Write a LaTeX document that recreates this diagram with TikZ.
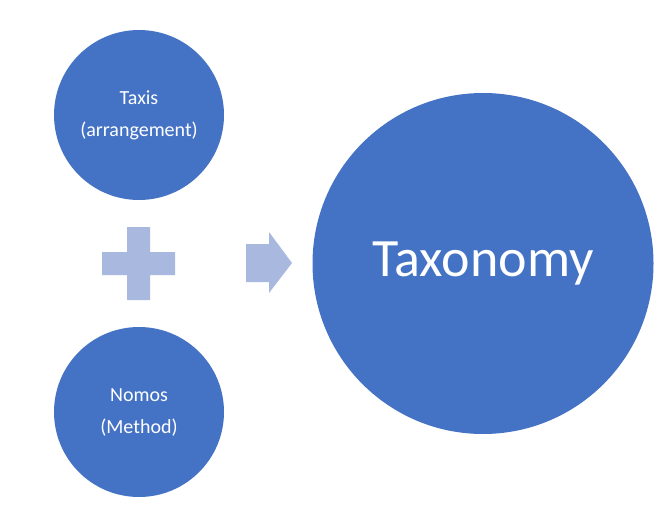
\documentclass[tikz,border=0pt]{standalone}
\usepackage{fontspec}
\setmainfont{Carlito}
\definecolor{circblue}{HTML}{4472C4}
\definecolor{lightblue}{HTML}{A9B8DE}
\begin{document}
\begin{tikzpicture}[x=1pt,y=-1pt,
  circ/.style={circle,fill=circblue,draw=none,text=white,inner sep=0pt,align=center},
  small/.style={circ,minimum size=170pt,font=\fontsize{20}{32}\selectfont},
  big/.style={circ,minimum size=341pt,font=\fontsize{54}{60}\selectfont},
  shapefill/.style={fill=lightblue,draw=none}]
\useasboundingbox (0,0) rectangle (666,505);
\node[small] (taxis) at (139,115) {Taxis\\(arrangement)};
\node[small] (nomos) at (139,412) {Nomos\\(Method)};
\node[big] (taxonomy) at (483,263.5) {Taxonomy};
% plus sign
\fill[shapefill] (127,227) -- (150,227) -- (150,252) -- (175,252) -- (175,275) -- (150,275)
  -- (150,300) -- (127,300) -- (127,275) -- (102,275) -- (102,252) -- (127,252) -- cycle;
% block arrow
\fill[shapefill] (246,244) -- (269,244) -- (269,232) -- (292,263) -- (269,293) -- (269,282) -- (246,282) -- cycle;
\end{tikzpicture}
\end{document}
